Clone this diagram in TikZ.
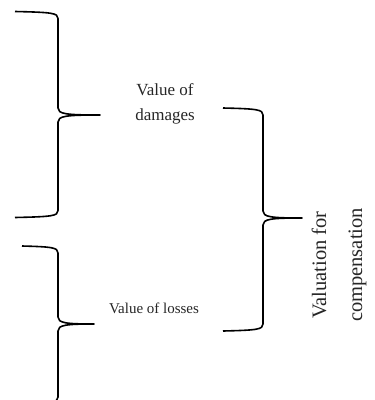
\documentclass[tikz,border=0pt]{standalone}
\usepackage{fontspec}
\setmainfont{Liberation Serif}
\newcommand\curlybrace[6]{% end x, stem x, tip x, top y, tip y, bottom y
  \draw[bracestroke] (#1,#4) .. controls (#2-6,#4+0.8) and (#2,#4+1.5) .. (#2,#4+7)
    -- (#2,#5-7) .. controls (#2,#5-1) and (#2+8,#5) .. (#3,#5)
    .. controls (#2+8,#5) and (#2,#5+1) .. (#2,#5+7)
    -- (#2,#6-7) .. controls (#2,#6-1.5) and (#2-6,#6-0.8) .. (#1,#6);}
\begin{document}
\begin{tikzpicture}[x=1pt,y=-1pt,
  bracestroke/.style={line width=1.6pt,black,line join=round},
  label/.style={text=black!85,inner sep=0pt,align=center}]
\useasboundingbox (0,0) rectangle (375,400);
\begin{scope}
\clip (0,0) rectangle (375,400);
% damages brace
\curlybrace{15}{58}{100}{11.5}{115}{217.5}
% losses brace (runs past the lower edge)
\curlybrace{22}{58}{94}{246}{324}{404}
% compensation brace
\curlybrace{223}{263}{302}{108}{218}{331}
\end{scope}
\node[label,font=\fontsize{17}{25}\selectfont] (damages) at (165,104) {Value of\\damages};
\node[label,font=\fontsize{15}{17}\selectfont,anchor=base] (losses) at (154,313) {Value of losses};
\node[label,font=\fontsize{20.5}{36}\selectfont,rotate=90] (valuation) at (339,265) {Valuation for\\compensation};
\end{tikzpicture}
\end{document}
